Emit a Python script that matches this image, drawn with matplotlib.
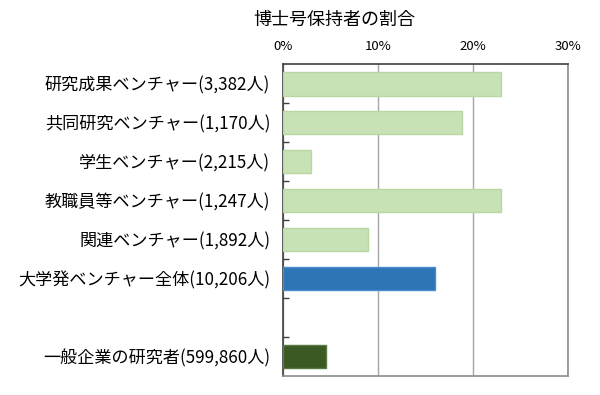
import numpy as np
import matplotlib
matplotlib.use('Agg')
import matplotlib.pyplot as plt
from matplotlib.ticker import FixedLocator

plt.rcParams['font.family'] = ['Noto Sans CJK JP', 'DejaVu Sans']

# data
labels = ['研究成果ベンチャー(3,382人)', '共同研究ベンチャー(1,170人)', '学生ベンチャー(2,215人)',
          '教職員等ベンチャー(1,247人)', '関連ベンチャー(1,892人)', '大学発ベンチャー全体(10,206人)',
          '', '一般企業の研究者(599,860人)']
values = [23.0, 18.9, 3.0, 23.0, 9.0, 16.0, np.nan, 4.6]
colors = ['#c8e2b6', '#c8e2b6', '#c8e2b6', '#c8e2b6', '#c8e2b6', '#2e75b6', 'none', '#3b5a23']
edges = ['#b8d8a2', '#b8d8a2', '#b8d8a2', '#b8d8a2', '#b8d8a2', '#4a8bd0', 'none', '#5a7a44']
ticks = [0, 10, 20, 30]

fig = plt.figure(figsize=(6, 3.95), dpi=100)
ax = fig.add_axes([0.4712, 0.0481, 0.475, 0.789])

pos = np.arange(len(labels))
for i in range(len(labels)):
    if np.isnan(values[i]):
        continue
    ax.barh(pos[i], values[i], height=0.6, color=colors[i], edgecolor=edges[i], linewidth=1, zorder=3)

ax.set_xlim(0, 30)
ax.set_ylim(len(labels) - 0.5, -0.5)
ax.set_xticks(ticks)
ax.set_xticklabels([f'{t}%' for t in ticks], fontsize=9.5)
ax.xaxis.tick_top()
ax.tick_params(axis='x', length=0, pad=8)
ax.grid(axis='x', color='#a6a6a6', linewidth=1, zorder=0)

ax.set_yticks(pos)
ax.set_yticklabels(labels, fontsize=12.3)
ax.tick_params(axis='y', length=0, pad=9)
ax.yaxis.set_minor_locator(FixedLocator(np.arange(0.5, len(labels) - 0.5, 1)))
ax.tick_params(axis='y', which='minor', direction='in', length=4, color='#404040', width=1)

for s in ['top', 'left']:
    ax.spines[s].set_color('#404040')
    ax.spines[s].set_linewidth(1.2)
for s in ['bottom', 'right']:
    ax.spines[s].set_color('#8c8c8c')
    ax.spines[s].set_linewidth(1.2)

fig.text(0.557, 0.949, '博士号保持者の割合', ha='center', va='center', fontsize=13)

fig.savefig('out.png', dpi=100)
